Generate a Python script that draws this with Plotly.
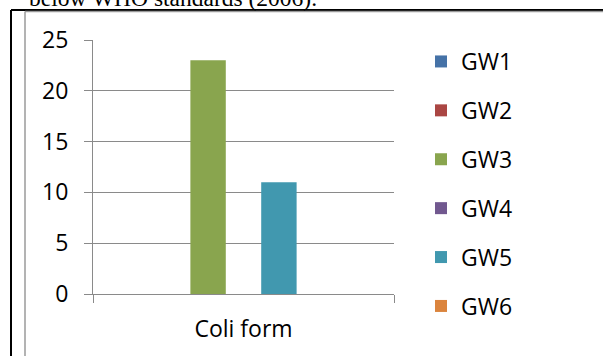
import plotly.graph_objects as go

# Data
categories = ["Coli form"]
series_names = ["GW1", "GW2", "GW3", "GW4", "GW5", "GW6"]
series_values = [[0], [0], [23], [0], [11], [0]]
series_colors = ["#4572A7", "#AA4643", "#89A54E", "#71588F", "#4198AF", "#DB843D"]
y_ticks = [0, 5, 10, 15, 20, 25]

W, H = 603, 356
L, R, T, B = 93, 394, 40, 294  # plot area in pixels


def px_x(p):
    return (p - L) / (R - L)


def px_y(p):
    return (B - p) / (B - T)


GRID = "#8a8a8a"
FONT = "Open Sans"

fig = go.Figure()

# bars laid out in 7 slots per category with a 1.5-slot gap
slot = 1 / 8.5
for i, (name, vals, col) in enumerate(zip(series_names, series_values, series_colors)):
    fig.add_trace(go.Bar(
        x=categories, y=vals, name=name,
        marker=dict(color=col, line=dict(width=0)),
        width=slot, offset=(i - 3.5) * slot,
        legendgroup=name,
    ))

fig.update_layout(
    width=W, height=H,
    margin=dict(l=L, r=W - R, t=T, b=H - B, pad=0),
    paper_bgcolor="white", plot_bgcolor="white",
    barmode="overlay",
    showlegend=True,
    font=dict(family=FONT, size=23, color="black"),
    legend=dict(
        x=px_x(421), y=px_y(40), xanchor="left", yanchor="top",
        traceorder="grouped", tracegroupgap=16, maxheight=500,
        font=dict(family=FONT, size=23, color="black"),
        bgcolor="rgba(0,0,0,0)",
    ),
    xaxis=dict(
        type="category", range=[-0.5, 0.5],
        showline=True, linecolor=GRID, linewidth=1,
        ticks="outside", tickson="boundaries", ticklen=8, tickcolor=GRID,
        showgrid=False, ticklabelstandoff=14,
        tickfont=dict(family=FONT, size=23, color="black"),
    ),
    yaxis=dict(
        range=[0, 25], tickvals=y_ticks,
        showline=True, linecolor=GRID, linewidth=1,
        ticks="outside", ticklen=8, tickcolor=GRID,
        showgrid=True, gridcolor=GRID, gridwidth=1,
        zeroline=False, ticklabelstandoff=11,
        tickfont=dict(family=FONT, size=23, color="black"),
    ),
    shapes=[
        # outer black frame (top and left)
        dict(type="line", xref="paper", yref="paper",
             x0=px_x(11), x1=px_x(603), y0=px_y(10), y1=px_y(10),
             line=dict(color="black", width=2)),
        dict(type="line", xref="paper", yref="paper",
             x0=px_x(11), x1=px_x(11), y0=px_y(10), y1=px_y(356),
             line=dict(color="black", width=2)),
        # chart area border (grey)
        dict(type="line", xref="paper", yref="paper",
             x0=px_x(25), x1=px_x(603), y0=px_y(11.5), y1=px_y(11.5),
             line=dict(color="#9a9a9a", width=1.5)),
        dict(type="line", xref="paper", yref="paper",
             x0=px_x(25), x1=px_x(25), y0=px_y(11.5), y1=px_y(356),
             line=dict(color="#9a9a9a", width=1.5)),
    ],
    annotations=[
        dict(text="below WHO standards (2006).", xref="paper", yref="paper",
             x=px_x(27), y=px_y(13), xanchor="left", yanchor="bottom",
             showarrow=False,
             font=dict(family="Liberation Serif", size=23.5, color="black")),
    ],
)

fig.write_html("out.html")
